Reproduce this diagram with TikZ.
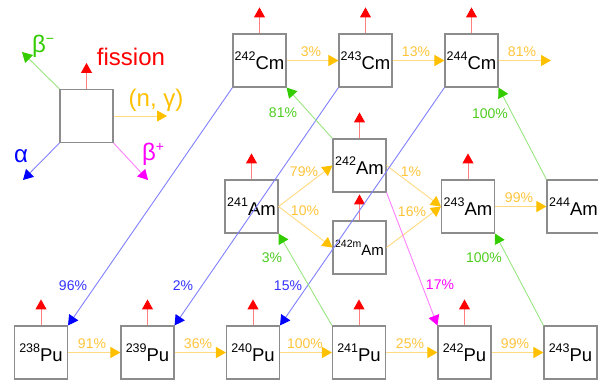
\documentclass[tikz,border=0pt]{standalone}
\usepackage{fontspec}
\setmainfont{Liberation Sans}
\usetikzlibrary{arrows.meta}
\definecolor{boxgray}{HTML}{8C8C8C}
\definecolor{orH}{HTML}{FFC000}
\definecolor{orL}{HTML}{FFDA80}
\definecolor{orT}{HTML}{FFC43A}
\definecolor{grH}{HTML}{33CC00}
\definecolor{grL}{HTML}{99E680}
\definecolor{grT}{HTML}{4DCC1F}
\definecolor{blH}{HTML}{0000FF}
\definecolor{blL}{HTML}{8080FF}
\definecolor{blT}{HTML}{3333FF}
\definecolor{rdH}{HTML}{FF0000}
\definecolor{rdL}{HTML}{FF8080}
\definecolor{mgH}{HTML}{FF00FF}
\definecolor{mgL}{HTML}{FF80FF}
\newcommand{\iso}[2]{{\fontsize{12.5}{12.5}\selectfont\raisebox{9pt}{#1}}{\fontsize{18.5}{18.5}\selectfont #2}}
\newcommand{\isosm}[2]{{\fontsize{10.5}{10.5}\selectfont\raisebox{8pt}{#1}}{\fontsize{15}{15}\selectfont #2}}
\begin{document}
\begin{tikzpicture}[x=1pt,y=-1pt,
  box/.style={draw=boxgray, line width=1.1pt, minimum width=53pt, minimum height=53pt, inner sep=0pt},
  con/.style={line width=0.9pt},
  fis/.style={con, draw=rdL, -{Triangle[length=10pt,width=11pt,color=rdH]}},
  ng/.style={con, draw=orL, -{Triangle[length=10pt,width=11pt,color=orH]}},
  bm/.style={con, draw=grL, -{Triangle[length=10pt,width=11pt,color=grH]}},
  al/.style={con, draw=blL, -{Triangle[length=10pt,width=11pt,color=blH]}},
  bp/.style={con, draw=mgL, -{Triangle[length=10pt,width=11pt,color=mgH]}},
  pct/.style={font=\fontsize{14}{14}\selectfont, inner sep=0pt},
  leg/.style={font=\fontsize{24}{24}\selectfont, inner sep=0pt}]
\useasboundingbox (0,0) rectangle (598,382);

% legend
\node[box] (lg) at (86.5,116) {};
\coordinate (lgBm) at (22,52);
\coordinate (lgNg) at (167,116);
\coordinate (lgAl) at (23,180);
\coordinate (lgBp) at (148,180);
\draw[bm] (lg.north west) -- (lgBm);
\draw[ng] (lg.east) -- (lgNg);
\draw[al] (lg.south west) -- (lgAl);
\draw[bp] (lg.south east) -- (lgBp);
\node[leg, text=rdH] (tF) at (131,57) {fission};
\node[leg, text=grH] (tBm) at (43,46) {β\raisebox{9pt}{\fontsize{14}{14}\selectfont −}};
\node[leg, text=orH] (tNg) at (156,100) {(n, γ)};
\node[leg, text=blH] (tAl) at (21,156) {α};
\node[leg, text=mgH] (tBp) at (153,154) {β\raisebox{9pt}{\fontsize{14}{14}\selectfont +}};

% nuclides
\node[box] (cm242) at (259.5,60.5) {\iso{242}{Cm}};
\node[box] (cm243) at (365.5,60.5) {\iso{243}{Cm}};
\node[box] (cm244) at (471.5,60.5) {\iso{244}{Cm}};
\node[box] (am241) at (251.5,206.5) {\iso{241}{Am}};
\node[box] (am242) at (359.5,165.5) {\iso{242}{Am}};
\node[box] (am242m) at (359.5,247.5) {\isosm{242m}{Am}};
\node[box] (am243) at (468,206.5) {\iso{243}{Am}};
\node[box] (am244) at (573.5,206.5) {\iso{244}{Am}};
\node[box] (pu238) at (41,352.5) {\iso{238}{Pu}};
\node[box] (pu239) at (147.5,352.5) {\iso{239}{Pu}};
\node[box] (pu240) at (253,352.5) {\iso{240}{Pu}};
\node[box] (pu241) at (359,352.5) {\iso{241}{Pu}};
\node[box] (pu242) at (464.5,352.5) {\iso{242}{Pu}};
\node[box] (pu243) at (570.5,352.5) {\iso{243}{Pu}};
\coordinate (cmout) at (551,60.5);

% fission arrows
\foreach \n in {lg,cm242,cm243,cm244,am241,am242,am242m,am243,pu238,pu239,pu240,pu241,pu242}
  \draw[fis] (\n.north) -- ++(0,-26);

% (n,gamma)
\draw[ng] (cm242.east) -- (cm243.west);
\draw[ng] (cm243.east) -- (cm244.west);
\draw[ng] (cm244.east) -- (cmout);
\draw[ng] (am241.east) -- (am242.west);
\draw[ng] (am241.east) -- (am242m.west);
\draw[ng] (am242.east) -- (am243.west);
\draw[ng] (am242m.east) -- (am243.west);
\draw[ng] (am243.east) -- (am244.west);
\draw[ng] (pu238.east) -- (pu239.west);
\draw[ng] (pu239.east) -- (pu240.west);
\draw[ng] (pu240.east) -- (pu241.west);
\draw[ng] (pu241.east) -- (pu242.west);
\draw[ng] (pu242.east) -- (pu243.west);

% alpha
\draw[al] (cm242.south west) -- (pu238.north east);
\draw[al] (cm243.south west) -- (pu239.north east);
\draw[al] (cm244.south west) -- (pu240.north east);

% beta-
\draw[bm] (am242.north west) -- (cm242.south east);
\draw[bm] (am244.north west) -- (cm244.south east);
\draw[bm] (pu241.north west) -- (am241.south east);
\draw[bm] (pu243.north west) -- (am243.south east);

% beta+ / EC
\draw[bp] (am242.south east) -- (pu242.north west);

% labels
\node[pct, text=orT] (l1) at (311,52) {3\%};
\node[pct, text=orT] (l2) at (416,52) {13\%};
\node[pct, text=orT] (l3) at (522,52) {81\%};
\node[pct, text=grT] (l4) at (283,113) {81\%};
\node[pct, text=grT] (l5) at (490,114) {100\%};
\node[pct, text=orT] (l6) at (304,172) {79\%};
\node[pct, text=orT] (l7) at (305,211) {10\%};
\node[pct, text=orT] (l8) at (411,172) {1\%};
\node[pct, text=orT] (l9) at (412,212) {16\%};
\node[pct, text=orT] (l10) at (519,197.5) {99\%};
\node[pct, text=grT] (l11) at (272,258) {3\%};
\node[pct, text=grT] (l12) at (484,258) {100\%};
\node[pct, text=blT] (l13) at (73,286) {96\%};
\node[pct, text=blT] (l14) at (183,286) {2\%};
\node[pct, text=blT] (l15) at (288,286) {15\%};
\node[pct, text=mgH] (l16) at (440,285) {17\%};
\node[pct, text=orT] (l17) at (92,343.5) {91\%};
\node[pct, text=orT] (l18) at (198,343.5) {36\%};
\node[pct, text=orT] (l19) at (305,343.5) {100\%};
\node[pct, text=orT] (l20) at (410,343.5) {25\%};
\node[pct, text=orT] (l21) at (515,343.5) {99\%};
\end{tikzpicture}
\end{document}
